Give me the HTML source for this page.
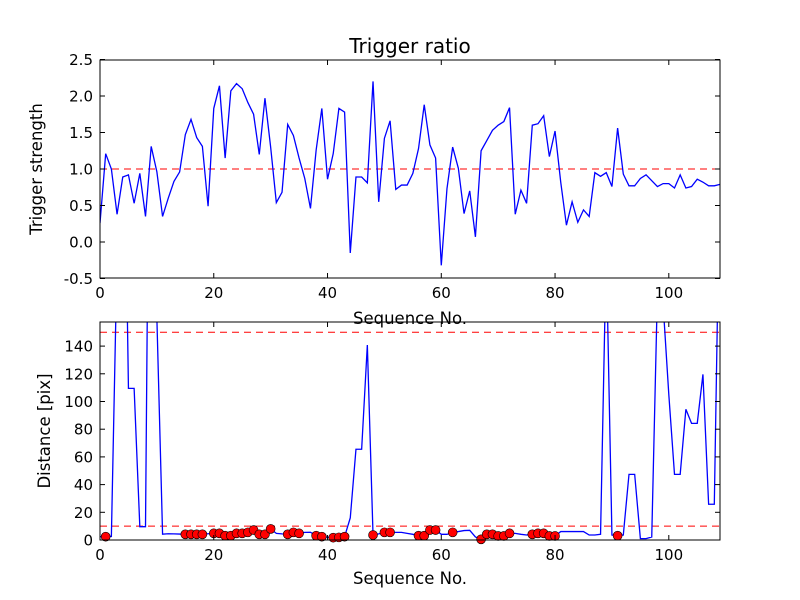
<!DOCTYPE html>
<html><head><meta charset="utf-8"><style>
body{margin:0;background:#fff}
svg{display:block;font-family:"DejaVu Sans","Liberation Sans",sans-serif}
</style></head><body>
<svg id="fig" width="800" height="600" viewBox="0 0 800 600" xmlns="http://www.w3.org/2000/svg">
<rect width="800" height="600" fill="#fff"/>
<defs>
<clipPath id="c1"><rect x="100" y="60" width="620" height="218"/></clipPath>
<clipPath id="c2"><rect x="100" y="322" width="620" height="218"/></clipPath>
</defs>
<text x="410" y="53" font-size="20" text-anchor="middle">Trigger ratio</text>
<g id="top"></g>
<g id="bot"></g>
</svg>
<script>
const seqCount = 110;
const ratioValues = [0.26,1.21,1.0,0.38,0.89,0.92,0.53,0.94,0.35,1.31,0.96,0.35,0.6,0.83,0.96,1.47,1.68,1.43,1.31,0.49,1.83,2.14,1.15,2.07,2.17,2.1,1.91,1.75,1.2,1.97,1.3,0.54,0.68,1.61,1.46,1.15,0.87,0.46,1.26,1.83,0.86,1.21,1.83,1.78,-0.15,0.89,0.89,0.81,2.2,0.55,1.42,1.66,0.72,0.78,0.78,0.94,1.28,1.88,1.33,1.15,-0.32,0.73,1.3,1.01,0.39,0.7,0.07,1.25,1.39,1.53,1.6,1.65,1.84,0.38,0.71,0.53,1.6,1.62,1.73,1.17,1.52,0.82,0.23,0.55,0.27,0.44,0.35,0.95,0.9,0.95,0.76,1.56,0.93,0.77,0.77,0.87,0.92,0.84,0.76,0.8,0.8,0.74,0.92,0.74,0.76,0.86,0.82,0.77,0.77,0.79];
const distValues = [2.4,2.4,2.5,205,382,109.5,109.5,9.6,9.6,500,160,4.2,4.5,4.4,4.3,4.1,4.1,4.1,4.1,4.5,4.8,4.8,3.1,3.1,4.8,4.8,5.5,7.2,4.1,4.1,8.0,4.8,4.4,4.1,5.5,4.8,5.5,5.6,3.1,2.4,2.0,1.7,1.9,2.4,16,65.5,65.5,140.8,3.6,4.4,5.5,5.5,5.5,5.5,4.8,4.1,3.1,3.1,7.2,7.2,4.1,4.1,5.5,6.1,6.8,7.0,2.2,0.5,4.1,4.1,2.9,2.9,4.8,4.8,4.1,3.6,4.1,4.8,4.8,2.9,2.9,6.1,6.1,6.1,6.1,6.1,3.6,3.6,4.1,210,3.6,3.1,3.6,47.4,47.4,1.0,1.0,2.2,180,170,105,47.4,47.4,94.4,84.2,84.2,119.6,25.8,25.8,275];
const markerIdx = [1,15,16,17,18,20,21,22,23,24,25,26,27,28,29,30,33,34,35,38,39,41,42,43,48,50,51,56,57,58,59,62,67,68,69,70,71,72,76,77,78,79,80,91];
const ratioThreshold = [1.0];
const distThresholds = [10,150];
const xTicks = [0,20,40,60,80,100];
const ratioTicks = [-0.5,0.0,0.5,1.0,1.5,2.0,2.5];
const distTicks = [0,20,40,60,80,100,120,140];

const NS="http://www.w3.org/2000/svg";
function mk(parent,tag,attrs,text){const e=document.createElementNS(NS,tag);for(const k in attrs)e.setAttribute(k,attrs[k]);if(text!==undefined)e.textContent=text;parent.appendChild(e);return e;}
const L=100,R=720,xMax=109;
const xs=v=>L+(v/xMax)*(R-L);
function frame(g,top,bot,ys,yTicks,yFmt,ylabel,ylx,xlabelY){
  const r=mk(g,'rect',{x:L,y:top,width:R-L,height:bot-top,fill:'none',stroke:'#000','stroke-width':1});
  
  
  xTicks.forEach(t=>{const x=xs(t);
    mk(g,'line',{x1:x,y1:bot,x2:x,y2:bot-5,stroke:'#000'});
    mk(g,'line',{x1:x,y1:top,x2:x,y2:top+5,stroke:'#000'});
    const tx=mk(g,'text',{x:x,y:bot+20,'font-size':15,'text-anchor':'middle'},String(t));
    
    
  });
  yTicks.forEach(t=>{const y=ys(t);
    mk(g,'line',{x1:L,y1:y,x2:L+5,y2:y,stroke:'#000'});
    mk(g,'line',{x1:R,y1:y,x2:R-5,y2:y,stroke:'#000'});
    const tx=mk(g,'text',{x:L-7,y:y+5.5,'font-size':15,'text-anchor':'end'},yFmt(t));
    
    
  });
  const xl=mk(g,'text',{x:410,y:xlabelY,'font-size':16.5,'text-anchor':'middle'},'Sequence No.');
  
  
  const my=(top+bot)/2;
  const yl=mk(g,'text',{x:ylx,y:my,'font-size':16.5,'text-anchor':'middle',transform:`rotate(-90 ${ylx} ${my})`},ylabel);
  
  
}
const gT=document.getElementById('top');
const ysT=v=>242-73*v;
ratioThreshold.forEach(t=>{const l=mk(gT,'line',{x1:L,x2:R,y1:ysT(t),y2:ysT(t),stroke:'#f00','stroke-dasharray':'7,5','clip-path':'url(#c1)'});
  
  });
const p1=mk(gT,'polyline',{points:ratioValues.map((v,i)=>xs(i)+','+ysT(v)).join(' '),fill:'none',stroke:'#00f','stroke-width':1.3,'clip-path':'url(#c1)'});


frame(gT,60,278,ysT,ratioTicks,t=>t.toFixed(1),'Trigger strength',42,324);
const gB=document.getElementById('bot');
const ysB=v=>540-v*1.385;
distThresholds.forEach(t=>{const l=mk(gB,'line',{x1:L,x2:R,y1:ysB(t),y2:ysB(t),stroke:'#f00','stroke-dasharray':'7,5','clip-path':'url(#c2)'});
  
  });
const p2=mk(gB,'polyline',{points:distValues.map((v,i)=>xs(i)+','+ysB(v)).join(' '),fill:'none',stroke:'#00f','stroke-width':1.3,'clip-path':'url(#c2)'});


markerIdx.forEach(i=>{const c=mk(gB,'circle',{cx:xs(i),cy:ysB(distValues[i]),r:4.5,fill:'#f00',stroke:'#000','stroke-width':0.6});
  
  });
frame(gB,322,540,ysB,distTicks,t=>String(t),'Distance [pix]',50,584);
</script>
</body></html>
